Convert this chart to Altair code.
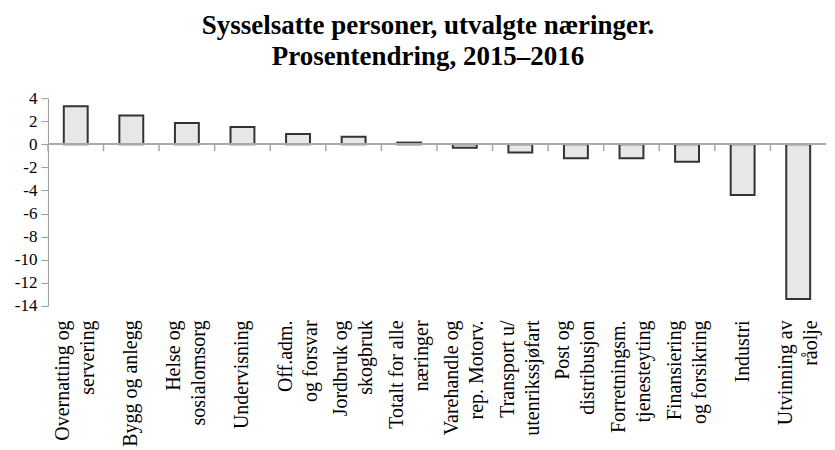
import altair as alt
import pandas as pd

categories = [
    "Overnatting og\nservering",
    "Bygg og anlegg",
    "Helse og\nsosialomsorg",
    "Undervisning",
    "Off.adm.\nog forsvar",
    "Jordbruk og\nskogbruk",
    "Totalt for alle\nnæringer",
    "Varehandle og\nrep. Motorv.",
    "Transport u/\nutenrikssjøfart",
    "Post og\ndistribusjon",
    "Forretningsm.\ntjenesteyting",
    "Finansiering\nog forsikring",
    "Industri",
    "Utvinning av\nråolje",
]
values = [3.3, 2.5, 1.85, 1.5, 0.9, 0.65, 0.15, -0.3, -0.7, -1.2, -1.2, -1.5, -4.4, -13.4]
y_ticks = [-14, -12, -10, -8, -6, -4, -2, 0, 2, 4]
title_lines = ["Sysselsatte personer, utvalgte næringer.", "Prosentendring, 2015–2016"]

df = pd.DataFrame({"cat": categories, "val": values})

FONT = "Liberation Serif"

y_scale = alt.Scale(domain=[-14, 4], nice=False, zero=False)
y_axis = alt.Axis(
    title=None,
    values=y_ticks,
    grid=False,
    domainColor="#999999",
    tickColor="#999999",
    tickSize=7,
    labelFont=FONT,
    labelFontSize=17,
    labelPadding=4,
    labelColor="black",
    labelOverlap=False,
    labelExpr="datum.value + ''",
)

bars = alt.Chart(df).mark_bar(
    color="#e6e7e9", stroke="#333333", strokeWidth=2
).encode(
    x=alt.X(
        "cat:N",
        sort=categories,
        scale=alt.Scale(paddingInner=0.57, paddingOuter=0.285),
        axis=alt.Axis(
            title=None,
            labelAngle=270,
            labelFont=FONT,
            labelFontSize=20,
            labelLineHeight=25,
            labelPadding=14,
            labelColor="black",
            labelLimit=400,
            labelOverlap=False,
            labelExpr="split(datum.label, '\\n')",
            labelOffset=alt.condition(
                "indexof(datum.value, '\\n') >= 0", alt.value(-12.5), alt.value(0)
            ),
            domain=False,
            ticks=False,
        ),
    ),
    y=alt.Y("val:Q", scale=y_scale, axis=y_axis),
)

zero = alt.Chart(df).mark_rule(color="#aaaaaa", strokeWidth=1.5).encode(
    y=alt.YDatum(0, type="quantitative", scale=y_scale, axis=y_axis)
)

ticks = alt.Chart(df).mark_rule(color="#aaaaaa", strokeWidth=1.5).encode(
    x=alt.X("cat:N", sort=categories, scale=alt.Scale(padding=0), bandPosition=0, axis=None),
    y=alt.YDatum(0, type="quantitative", scale=y_scale, axis=y_axis),
    y2=alt.datum(-0.6),
)

chart = alt.layer(bars, zero, ticks).resolve_scale(x="independent").properties(
    width=779,
    height=208,
    padding={"left": 6, "top": 4, "right": 0, "bottom": 0},
    title=alt.TitleParams(
        title_lines,
        font=FONT,
        fontSize=27,
        fontWeight="bold",
        lineHeight=31,
        anchor="middle",
        frame="group",
        dx=-9,
        offset=18,
        color="black",
    ),
).configure(font=FONT).configure_axis(
    labelFont=FONT, labelOverlap=False
).configure_axisY(
    labelFont=FONT, labelFontSize=17, labelColor="black"
).configure_view(stroke=None)

chart.save("out.html", embed_options={"renderer": "svg", "actions": False})
